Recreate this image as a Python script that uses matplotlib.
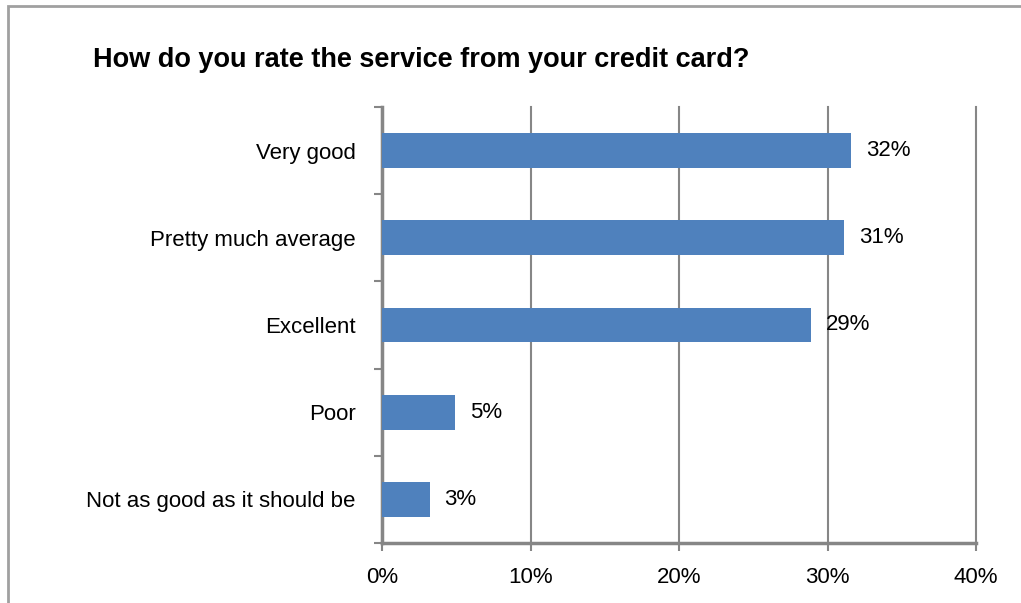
import matplotlib
matplotlib.use("Agg")
import matplotlib.pyplot as plt
from matplotlib.patches import Rectangle

categories = [
    "Very good",
    "Pretty much average",
    "Excellent",
    "Poor",
    "Not as good as it should be",
]
shares = [31.6, 31.1, 28.9, 4.9, 3.2]
x_ticks = [0, 10, 20, 30, 40]

BAR_COLOR = "#4F81BD"
AXIS_GRAY = "#868686"
TEXT_SIZE = 16

plt.rcParams["font.family"] = ["Liberation Sans", "DejaVu Sans"]

fig = plt.figure(figsize=(10.21, 6.03), dpi=100)
W, H = 1021, 603

# outer chart frame
fig.patches.append(Rectangle((8 / W, -0.05), 1.2, 1 - 6 / H + 0.05,
                             transform=fig.transFigure, fill=False,
                             edgecolor="#a0a0a0", linewidth=2))

ax = fig.add_axes([382 / W, 1 - 543 / H, (976 - 382) / W, (543 - 107) / H])

ypos = list(range(len(categories)))
ax.barh(ypos, shares, height=0.4, color=BAR_COLOR, zorder=3)
for y, v in zip(ypos, shares):
    ax.text(v + 1.0, y, f"{v:.0f}%", va="center", ha="left",
            fontsize=TEXT_SIZE, color="black")

ax.set_xlim(0, 40)
ax.set_ylim(4.5, -0.5)
ax.set_xticks(x_ticks)
ax.set_xticklabels([f"{t}%" for t in x_ticks], fontsize=TEXT_SIZE)
ax.set_yticks(ypos)
ax.set_yticklabels(categories, fontsize=TEXT_SIZE)
ax.tick_params(axis="y", length=0, pad=19)
ax.set_yticks([i - 0.5 for i in range(len(categories) + 1)], minor=True)
ax.tick_params(axis="y", which="minor", length=6, width=1.5, color=AXIS_GRAY, direction="out")
ax.tick_params(axis="x", length=6, width=1.5, color=AXIS_GRAY, pad=11)

ax.grid(axis="x", color=AXIS_GRAY, linewidth=1.5, zorder=0)
for line in ax.get_xgridlines():
    line.set_clip_on(False)
for side in ("top", "right"):
    ax.spines[side].set_visible(False)
for side in ("left", "bottom"):
    ax.spines[side].set_color(AXIS_GRAY)
    ax.spines[side].set_linewidth(2.5)

fig.text(93 / W, 1 - 60 / H, "How do you rate the service from your credit card?",
         fontsize=19.5, fontweight="bold", va="center", ha="left")

fig.savefig("out.png", dpi=100)
